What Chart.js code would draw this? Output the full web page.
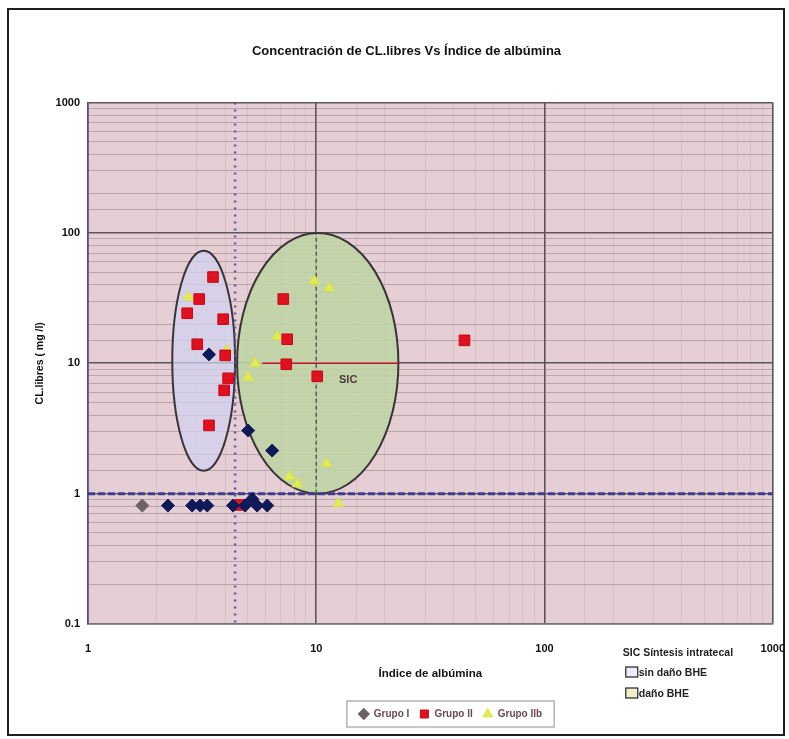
<!DOCTYPE html>
<html>
<head>
<meta charset="utf-8">
<script src="https://cdn.jsdelivr.net/npm/chart.js@4/dist/chart.umd.min.js"></script>
<style>
  html, body { margin: 0; padding: 0; background: #fff; }
  #wrap { position: relative; width: 789px; height: 739px; }
  #frame { position: absolute; left: 7px; top: 8px; width: 774px; height: 724px; border: 2px solid #1e1e1e; pointer-events: none; }
</style>
</head>
<body>
<div id="wrap">
  <canvas id="chart" width="789" height="739"></canvas>
  <div id="frame"></div>
</div>
<script>
// values (log-log axes)
const xTickLabels = [1, 10, 100, 1000];
const yTickLabels = [0.1, 1, 10, 100, 1000];

const grupoI_x = [1.73, 2.24, 2.86, 3.10, 3.33, 4.32, 4.88, 5.24, 5.51, 6.10, 3.39, 5.03, 6.41];
const grupoI_y = [0.81, 0.81, 0.81, 0.81, 0.81, 0.81, 0.81, 0.91, 0.81, 0.81, 11.7, 3.05, 2.14];

const grupoII_x = [3.53, 3.07, 2.72, 3.91, 3.01, 3.99, 4.11, 3.95, 3.39, 7.17, 7.46, 7.39, 10.1, 4.64, 44.6];
const grupoII_y = [45.9, 31.1, 24.2, 21.8, 14.0, 11.5, 7.67, 6.2, 3.34, 31.1, 15.3, 9.83, 7.94, 0.82, 15.0];

const grupoIIb_x = [2.75, 4.07, 5.40, 5.03, 9.80, 11.4, 6.75, 11.1, 7.62, 8.26, 12.5];
const grupoIIb_y = [32.2, 12.6, 10.0, 7.8, 42.7, 37.8, 16.1, 1.70, 1.35, 1.19, 0.84];

// regions (data units: x range, y range)
const sinDanoX = [2.34, 4.41], sinDanoY = [1.5, 73];
const danoX = [4.5, 22.9], danoY = [1, 100];

// reference lines
const cutoffY = 1;          // horizontal blue dashed
const cutoffX = 4.41;       // vertical blue dotted
const redLineY = 10, redLineX = [5.8, 22.9];
const midLineX = 10, midLineY = [1, 100];

const FONT = "'Liberation Sans', Arial, sans-serif";
const isMajor = v => Math.abs(Math.log10(v) - Math.round(Math.log10(v))) < 1e-6;
const pts = (xs, ys) => xs.map((x, i) => ({ x, y: ys[i] }));

const backdrop = {
  id: "backdrop",
  beforeDraw(chart) {
    const { ctx, chartArea: a } = chart;
    ctx.save();
    ctx.fillStyle = "#e5ced4";
    ctx.fillRect(a.left, a.top, a.right - a.left, a.bottom - a.top);
    ctx.restore();
  }
};

function ellipse(ctx, xs, ys, xr, yr, fill) {
  const x1 = xs.getPixelForValue(xr[0]), x2 = xs.getPixelForValue(xr[1]);
  const y1 = ys.getPixelForValue(yr[0]), y2 = ys.getPixelForValue(yr[1]);
  ctx.beginPath();
  ctx.ellipse((x1 + x2) / 2, (y1 + y2) / 2, Math.abs(x2 - x1) / 2, Math.abs(y2 - y1) / 2, 0, 0, Math.PI * 2);
  ctx.fillStyle = fill;
  ctx.fill();
  ctx.lineWidth = 2;
  ctx.strokeStyle = "#3a3438";
  ctx.stroke();
}

const regions = {
  id: "regions",
  beforeDatasetsDraw(chart) {
    const { ctx, chartArea: a, scales: { x, y } } = chart;
    ctx.save();
    ellipse(ctx, x, y, danoX, danoY, "rgba(190,212,164,0.88)");
    ellipse(ctx, x, y, sinDanoX, sinDanoY, "rgba(208,210,240,0.72)");

    // dark vertical dashed line at x=10 inside the green region
    ctx.setLineDash([4, 3]);
    ctx.strokeStyle = "#4a4448";
    ctx.lineWidth = 1.2;
    ctx.beginPath();
    ctx.moveTo(x.getPixelForValue(midLineX), y.getPixelForValue(midLineY[0]));
    ctx.lineTo(x.getPixelForValue(midLineX), y.getPixelForValue(midLineY[1]));
    ctx.stroke();

    // red horizontal line
    ctx.setLineDash([]);
    ctx.strokeStyle = "#c8102a";
    ctx.lineWidth = 1.5;
    ctx.beginPath();
    ctx.moveTo(x.getPixelForValue(redLineX[0]), y.getPixelForValue(redLineY));
    ctx.lineTo(x.getPixelForValue(redLineX[1]), y.getPixelForValue(redLineY));
    ctx.stroke();

    // blue cut-off lines
    ctx.strokeStyle = "#3c3c90";
    ctx.lineWidth = 3;
    ctx.setLineDash([7, 3]);
    ctx.beginPath();
    ctx.moveTo(a.left, y.getPixelForValue(cutoffY));
    ctx.lineTo(a.right, y.getPixelForValue(cutoffY));
    ctx.stroke();

    ctx.strokeStyle = "#5a5aa8";
    ctx.lineWidth = 2.5;
    ctx.setLineDash([2, 5]);
    ctx.beginPath();
    ctx.moveTo(x.getPixelForValue(cutoffX), a.top);
    ctx.lineTo(x.getPixelForValue(cutoffX), a.bottom);
    ctx.stroke();

    ctx.setLineDash([]);
    ctx.fillStyle = "#4a3a3e";
    ctx.font = "bold 11px " + FONT;
    ctx.textAlign = "center";
    ctx.textBaseline = "middle";
    ctx.fillText("SIC", x.getPixelForValue(13.8), y.getPixelForValue(7.5));
    ctx.restore();
  }
};

// the legend in the picture sits a little right of centre
const legendShift = {
  id: "legendShift",
  afterLayout(chart) {
    chart.legend.left += 44;
    chart.legend.right += 44;
  }
};

const notes = {
  id: "notes",
  afterDraw(chart) {
    const { ctx, chartArea: a, legend } = chart;
    ctx.save();
    // box round legend
    const hb = legend.legendHitBoxes;
    const l = Math.min(...hb.map(h => h.left)) - 12;
    const r = Math.max(...hb.map(h => h.left + h.width)) + 12;
    const t = hb[0].top - 8, b = hb[0].top + hb[0].height + 8;
    ctx.strokeStyle = "#b8b4b6";
    ctx.lineWidth = 1.5;
    ctx.strokeRect(l, t, r - l, b - t);

    // SIC key
    ctx.fillStyle = "#222";
    ctx.font = "bold 10.5px " + FONT;
    ctx.textBaseline = "middle";
    ctx.textAlign = "left";
    const kx = a.right - 150, ky = a.bottom + 29;
    ctx.fillText("SIC Síntesis intratecal", kx, ky);
    ctx.lineWidth = 1.2;
    ctx.strokeStyle = "#222";
    ctx.fillStyle = "#ececf6";
    ctx.fillRect(kx + 3, ky + 14, 12, 10);
    ctx.strokeRect(kx + 3, ky + 14, 12, 10);
    ctx.fillStyle = "#eef0cc";
    ctx.fillRect(kx + 3, ky + 35, 12, 10);
    ctx.strokeRect(kx + 3, ky + 35, 12, 10);
    ctx.fillStyle = "#222";
    ctx.fillText("sin daño BHE", kx + 16, ky + 20);
    ctx.fillText("daño BHE", kx + 16, ky + 41);
    ctx.restore();
  }
};

const gridColorX = ctx => isMajor(ctx.tick.value) ? "#5c565a" : "rgba(140,110,120,0.16)";
const gridColorY = ctx => isMajor(ctx.tick.value) ? "#5c565a" : "rgba(110,96,104,0.38)";
const gridWidth = ctx => isMajor(ctx.tick.value) ? 1.6 : 1;
const tickLabel = v => (isMajor(v) ? (v < 1 ? "0.1" : String(Math.round(v))) : "");

new Chart(document.getElementById("chart"), {
  type: "scatter",
  data: {
    datasets: [
      {
        label: "Grupo I",
        data: pts(grupoI_x, grupoI_y),
        pointStyle: "rectRot",
        pointRadius: 6.5,
        backgroundColor: ctx => ctx.dataIndex === 0 ? "#6a6264" : "#101a58",
        borderColor: ctx => ctx.dataIndex === 0 ? "#6a6264" : "#101a58",
        borderWidth: 1
      },
      {
        label: "Grupo II",
        data: pts(grupoII_x, grupoII_y),
        pointStyle: "rect",
        pointRadius: 7.5,
        backgroundColor: "#e0101e",
        borderColor: "#c40a18",
        borderWidth: 1
      },
      {
        label: "Grupo IIb",
        data: pts(grupoIIb_x, grupoIIb_y),
        pointStyle: "triangle",
        pointRadius: 6,
        backgroundColor: "#e2ec52",
        borderColor: "#d8e448",
        borderWidth: 1
      }
    ]
  },
  options: {
    responsive: false,
    animation: false,
    layout: { padding: { left: 28, right: 4, top: 4, bottom: 10 } },
    plugins: {
      title: {
        display: true,
        text: "Concentración de CL.libres Vs Índice de albúmina",
        color: "#111",
        font: { family: FONT, size: 13, weight: "bold" },
        padding: { top: 40, bottom: 43 }
      },
      legend: {
        position: "bottom",
        labels: {
          usePointStyle: true,
          boxHeight: 8,
          padding: 10,
          color: "#6a4a55",
          font: { family: FONT, size: 10, weight: "bold" }
        }
      },
      tooltip: { enabled: false }
    },
    scales: {
      x: {
        type: "logarithmic",
        min: xTickLabels[0],
        max: xTickLabels[xTickLabels.length - 1],
        afterFit: s => { s.height = 75; },
        border: { color: "#7a7276", width: 1.5 },
        grid: { color: gridColorX, lineWidth: gridWidth, drawTicks: true, tickLength: 14, tickColor: "rgba(0,0,0,0)" },
        ticks: {
          autoSkip: false, maxRotation: 0, padding: 4,
          color: "#111", font: { family: FONT, size: 11, weight: "bold" },
          callback: tickLabel
        },
        title: {
          display: true, text: "Índice de albúmina", color: "#111",
          font: { family: FONT, size: 11.5, weight: "bold" },
          padding: { top: 0, bottom: 18 }
        }
      },
      y: {
        type: "logarithmic",
        min: yTickLabels[0],
        max: yTickLabels[yTickLabels.length - 1],
        afterFit: s => { s.width = 60; },
        border: { color: "#4a4a98", width: 1.5 },
        grid: { color: gridColorY, lineWidth: gridWidth, drawTicks: false },
        ticks: {
          autoSkip: false, padding: 8,
          color: "#111", font: { family: FONT, size: 11, weight: "bold" },
          callback: tickLabel
        },
        title: {
          display: true, text: "CL.libres ( mg /l)", color: "#111",
          font: { family: FONT, size: 10.5, weight: "bold" },
          padding: { top: 6, bottom: 0 }
        }
      }
    }
  },
  plugins: [backdrop, regions, legendShift, notes]
});
</script>
</body>
</html>
